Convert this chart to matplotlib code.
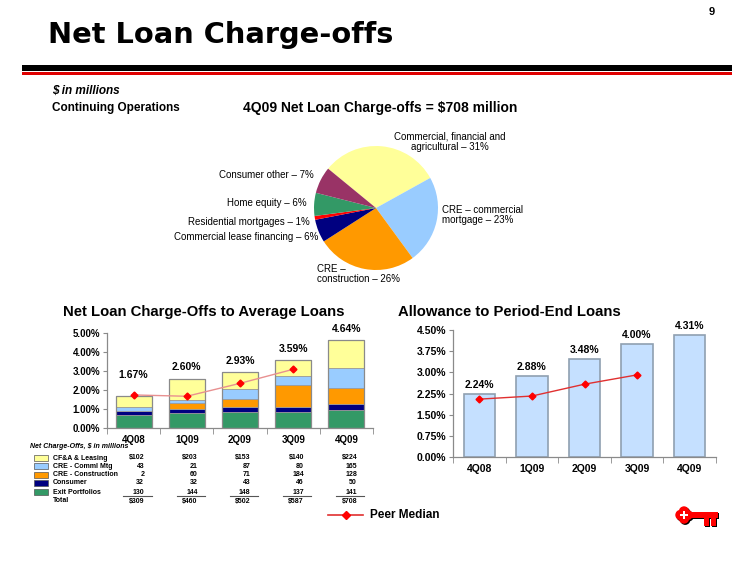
import numpy as np
import matplotlib.pyplot as plt
from matplotlib.patches import Rectangle, Circle
from matplotlib.transforms import blended_transform_factory

plt.rcParams['font.family'] = ['Liberation Sans', 'DejaVu Sans']

W, H = 750, 563

quarters = ['4Q08', '1Q09', '2Q09', '3Q09', '4Q09']

# 4Q09 charge-off mix (pie)
pie_labels = ['Commercial, financial and\nagricultural \u2013 31%',
              'CRE \u2013 commercial\nmortgage \u2013 23%',
              'CRE \u2013\nconstruction \u2013 26%',
              'Commercial lease financing \u2013 6%',
              'Residential mortgages \u2013 1%',
              'Home equity \u2013 6%',
              'Consumer other \u2013 7%']
pie_shares = [31, 23, 26, 6, 1, 6, 7]
pie_colors = ['#FFFF99', '#99CCFF', '#FF9900', '#000080', '#FF0000', '#339966', '#993366']

# net charge-offs, $ in millions
seg_names = ['CF&A & Leasing', 'CRE - Comml Mtg', 'CRE - Construction', 'Consumer', 'Exit Portfolios']
seg_colors = ['#FFFF99', '#99CCFF', '#FF9900', '#000080', '#339966']
cfa = [102, 203, 153, 140, 224]
cre_mtg = [43, 21, 87, 80, 165]
cre_con = [2, 60, 71, 184, 128]
consumer = [32, 32, 43, 46, 50]
exit_port = [130, 144, 148, 137, 141]
totals = [309, 460, 502, 587, 708]

nco_ratio = [1.67, 2.60, 2.93, 3.59, 4.64]
nco_peer = [1.74, 1.67, 2.35, 3.09]

allowance = [2.24, 2.88, 3.48, 4.00, 4.31]
allow_peer = [2.05, 2.16, 2.58, 2.91]


def fx(x):
    return x / W


def fy(y):
    return 1 - y / H


fig = plt.figure(figsize=(7.5, 5.63), dpi=100)

# overlay for header rules, legend and logo (pixel coords)
ov = fig.add_axes([0, 0, 1, 1], zorder=5)
ov.set_xlim(0, W); ov.set_ylim(H, 0); ov.axis('off')
ov.patch.set_alpha(0)

ov.add_patch(Rectangle((22, 65), 710, 6, color='black', lw=0))
ov.add_patch(Rectangle((22, 72.3), 710, 2.2, color='#E00000', lw=0))

fig.text(fx(48), fy(35), 'Net Loan Charge-offs', family='DejaVu Sans', weight='bold',
         fontsize=20.8, va='center', ha='left')
fig.text(fx(712), fy(12), '9', weight='bold', fontsize=8, va='center', ha='center')
fig.text(fx(52), fy(91), '$ in millions', weight='bold', style='italic', fontsize=8.5, va='center')
fig.text(fx(52), fy(108), 'Continuing Operations', weight='bold', fontsize=8.5, va='center')
fig.text(fx(243), fy(108), '4Q09 Net Loan Charge-offs = $708 million', weight='bold',
         fontsize=10, va='center')

# pie
axp = fig.add_axes([fx(376 - 62), fy(208 + 62), 124 / W, 124 / H])
axp.pie(pie_shares, colors=pie_colors, startangle=140.6, counterclock=False,
        wedgeprops=dict(linewidth=0))
axp.set_xlim(-1, 1); axp.set_ylim(-1, 1); axp.set_aspect('equal')

pie_pos = [(450, 142, 'center'), (442, 215, 'left'), (317, 274, 'left'),
           (318, 237, 'right'), (310, 222, 'right'), (307, 203, 'right'), (314, 175, 'right')]
for lab, (x, y, ha) in zip(pie_labels, pie_pos):
    fig.text(fx(x), fy(y), lab, fontsize=7, ha=ha, va='center', ma='center' if ha == 'center' else 'left',
             linespacing=1.05)

# section titles
fig.text(fx(63), fy(312), 'Net Loan Charge-Offs to Average Loans', weight='bold', fontsize=10.7, va='center')
fig.text(fx(398), fy(312), 'Allowance to Period-End Loans', weight='bold', fontsize=10.7, va='center')


def style_axes(ax):
    for s in ['top', 'right']:
        ax.spines[s].set_visible(False)
    for s in ['left', 'bottom']:
        ax.spines[s].set_color('#8A8A8A')
        ax.spines[s].set_linewidth(0.9)
    ax.tick_params(axis='y', direction='out', length=3, color='#8A8A8A', pad=2)
    ax.tick_params(axis='x', which='major', length=0, pad=5)
    ax.tick_params(axis='x', which='minor', direction='out', length=4, color='#8A8A8A')
    ax.set_xticks(np.arange(-0.5, 5, 1), minor=True)
    ax.set_xlim(-0.5, 4.5)


# left: stacked charge-off ratio
ax1 = fig.add_axes([fx(107), fy(428), 266 / W, 95 / H])
x = np.arange(len(quarters))
stack = [exit_port, consumer, cre_con, cre_mtg, cfa]
stack_colors = seg_colors[::-1]
bottom = np.zeros(len(quarters))
for vals, c in zip(stack, stack_colors):
    h = np.array(vals) / np.array(totals) * np.array(nco_ratio)
    ax1.bar(x, h, 0.68, bottom=bottom, color=c, edgecolor='#9A9A9A', linewidth=0.6)
    bottom += h
ax1.bar(x, nco_ratio, 0.68, color='none', edgecolor='#8A8A8A', linewidth=0.9)
ax1.plot(x[:len(nco_peer)], nco_peer, color='#E89090', lw=1.0, marker='D', ms=3.5,
         mfc='#FF0000', mec='#FF0000')
for i, v in enumerate(nco_ratio):
    off = 15 if i == 0 else 8
    ax1.annotate('%.2f%%' % v, (i, v), xytext=(0, off), textcoords='offset points',
                 ha='center', va='center', weight='bold', fontsize=7.5)
ax1.set_ylim(0, 5)
ax1.set_yticks(np.arange(0, 5.01, 1))
ax1.set_yticklabels(['%.2f%%' % t for t in np.arange(0, 5.01, 1)], weight='bold', fontsize=7)
ax1.set_xticks(x)
ax1.set_xticklabels(quarters, weight='bold', fontsize=7)
style_axes(ax1)

# table under the left chart
tr = blended_transform_factory(ax1.transData, fig.transFigure)
fig.text(fx(30), fy(448), 'Net Charge-Offs, $ in millions', weight='bold', style='italic', fontsize=5)
row_y = [458, 466, 474.5, 483, 492]
rows = [cfa, cre_mtg, cre_con, consumer, exit_port]
for r, (name, c, vals, y) in enumerate(zip(seg_names, seg_colors, rows, row_y)):
    ov.add_patch(Rectangle((34, y - 3), 14, 6, facecolor=c, edgecolor='#555555', lw=0.5))
    fig.text(fx(53), fy(y), name, weight='bold', fontsize=5, va='center')
    for i, v in enumerate(vals):
        s = ('$%d' % v) if r == 0 else '%d' % v
        ax1.text(i + 0.2, fy(y), s, transform=tr, weight='bold', fontsize=5, ha='right', va='center')
fig.text(fx(53), fy(501), 'Total', weight='bold', fontsize=5, va='center')
for i, v in enumerate(totals):
    ax1.text(i + 0.2, fy(501), '$%d' % v, transform=tr, weight='bold', fontsize=5, ha='right', va='center')
    ax1.plot([i - 0.19, i + 0.34], [fy(496)] * 2, transform=tr, color='#555555', lw=0.8, clip_on=False)

# right: allowance ratio
ax2 = fig.add_axes([fx(453), fy(457), 263 / W, 127 / H])
ax2.bar(x, allowance, 0.6, color='#C5E0FF', edgecolor='#8FA0B0', linewidth=1.2)
ax2.plot(x[:len(allow_peer)], allow_peer, color='#E03030', lw=1.0, marker='D', ms=3.5,
         mfc='#FF0000', mec='#FF0000')
for i, v in enumerate(allowance):
    ax2.annotate('%.2f%%' % v, (i, v), xytext=(0, 6.5), textcoords='offset points',
                 ha='center', va='center', weight='bold', fontsize=7.5)
yt = np.arange(0, 4.51, 0.75)
ax2.set_ylim(0, 4.5)
ax2.set_yticks(yt)
ax2.set_yticklabels(['%.2f%%' % t for t in yt], weight='bold', fontsize=7.5)
ax2.set_xticks(x)
ax2.set_xticklabels(quarters, weight='bold', fontsize=7.5)
style_axes(ax2)

# legend
ov.plot([328, 363], [515, 515], color='#E03030', lw=1.2)
ov.plot([345.5], [515], marker='D', ms=4, color='#FF0000')
fig.text(fx(370), fy(515), 'Peer Median', weight='bold', fontsize=8.5, va='center')

# key logo
for dx, col in [(1.2, 'black'), (0, '#FF0000')]:
    for cx, cy in [(680.5, 515), (687.5, 515), (684, 511.5), (684, 518.5)]:
        ov.add_patch(Circle((cx + dx, cy + dx), 5.2, color=col, lw=0))
    ov.add_patch(Rectangle((690 + dx, 512 + dx), 28, 6, color=col, lw=0))
    ov.add_patch(Rectangle((704 + dx, 517 + dx), 5, 9, color=col, lw=0))
    ov.add_patch(Rectangle((711 + dx, 517 + dx), 5, 9, color=col, lw=0))
ov.add_patch(Rectangle((680, 513.8), 8, 2.4, color='white', lw=0))
ov.add_patch(Rectangle((682.8, 511), 2.4, 8, color='white', lw=0))

fig.savefig('out.png', dpi=100, facecolor='white')
